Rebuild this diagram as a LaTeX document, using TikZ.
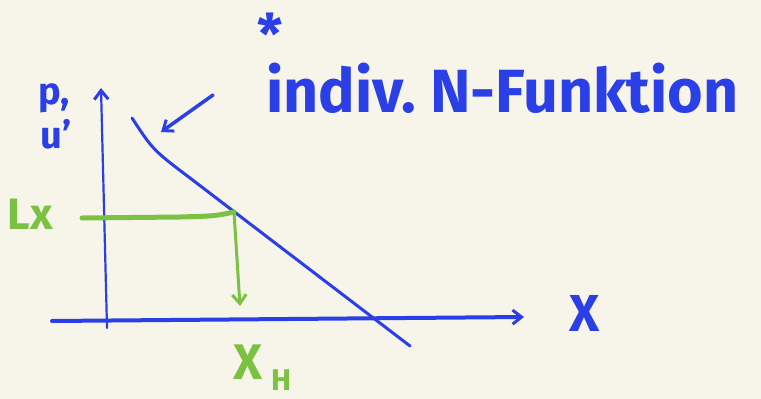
\documentclass[tikz,border=0pt]{standalone}
\usepackage{fontspec}
\setmainfont{Fira Sans}
\usetikzlibrary{arrows.meta}
\definecolor{bg}{HTML}{F7F4E9}
\definecolor{pen}{HTML}{2A3FE6}
\definecolor{lime}{HTML}{7CC242}
\tikzset{
  blueline/.style={draw=pen, line cap=round, line join=round},
  greenline/.style={draw=lime, line cap=round, line join=round},
  bluetext/.style={text=pen, font=\fontsize{40}{40}\selectfont\bfseries, inner sep=0pt},
  greentext/.style={text=lime, font=\fontsize{40}{40}\selectfont\bfseries, inner sep=0pt},
  tip/.style={-{Straight Barb[length=9pt,width=14pt,line width=3pt]}}
}
\begin{document}
\begin{tikzpicture}[x=1pt,y=-1pt]
\fill[bg] (0,0) rectangle (761,399);
\useasboundingbox (0,0) rectangle (761,399);
% axes
\coordinate (ybot) at (107,328);
\coordinate (ytop) at (101,88);
\coordinate (xl) at (52,321);
\coordinate (xr) at (524,317);
\draw[blueline, line width=2.2pt, tip] (ybot) -- (ytop);
\draw[blueline, line width=4pt, tip] (xl) -- (xr);
\node[bluetext, font=\fontsize{52}{52}\selectfont\bfseries] (xlab) at (585,313) {X};
% demand line
\coordinate (d1) at (132,118);
\coordinate (d2) at (410,346);
\draw[blueline, line width=3pt] (d1) .. controls (153,150) .. (190,178) -- (d2);
% annotation arrow
\coordinate (a1) at (213,95);
\coordinate (a2) at (161,132);
\draw[blueline, line width=3.5pt, tip] (a1) -- (a2);
\node[bluetext, font=\fontsize{56}{56}\selectfont\bfseries] (star) at (270,34) {*};
\node[bluetext, font=\fontsize{61}{61}\selectfont\bfseries, anchor=west] (title) at (266,88) {indiv.\ N-Funktion};
\node[bluetext, font=\fontsize{38}{38}\selectfont\bfseries] (p) at (54,98) {p,};
\node[bluetext, font=\fontsize{38}{38}\selectfont\bfseries] (u) at (56,134) {u'};
% green construction
\coordinate (g1) at (82,218);
\coordinate (g2) at (234,212);
\coordinate (g3) at (240,306);
\draw[greenline, line width=5pt] (g1) -- (180,217) .. controls (215,216) .. (g2);
\draw[greenline, line width=3pt, tip] (g2) -- (g3);
\node[greentext, font=\fontsize{44}{44}\selectfont\bfseries] (lx) at (30,214) {Lx};
\node[greentext, font=\fontsize{50}{50}\selectfont\bfseries] (xh) at (248,362) {X};
\node[greentext, font=\fontsize{30}{30}\selectfont\bfseries] (hh) at (281,380) {H};
\end{tikzpicture}
\end{document}
